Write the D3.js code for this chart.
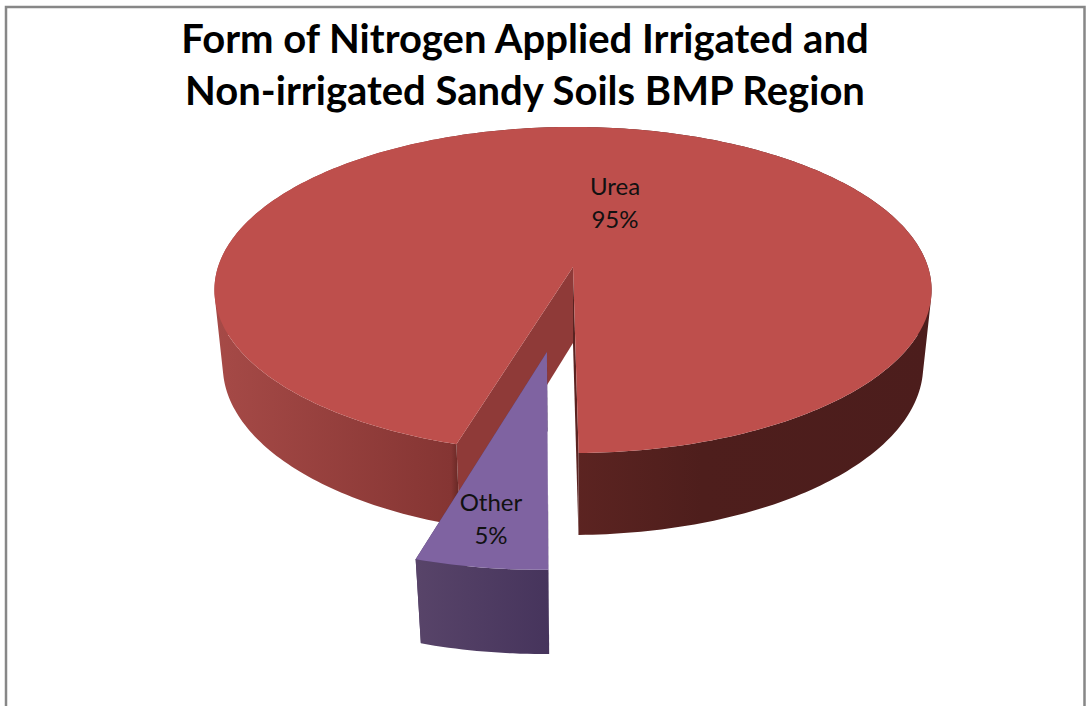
<!doctype html>
<html>
<head>
<meta charset="utf-8">
<script src="https://d3js.org/d3.v7.min.js"></script>
<style>
  html, body { margin: 0; padding: 0; background: #fff; }
  svg { display: block; font-family: Lato, "Open Sans", sans-serif; }
</style>
</head>
<body>
<script>
// data
const categories = ["Urea", "Other"];
const shares = [95.2, 4.8];
const titleLines = ["Form of Nitrogen Applied Irrigated and", "Non-irrigated Sandy Soils BMP Region"];

const width = 1086, height = 706;
const topColors = ["#be4f4c", "#7f63a1"];
const faceColors = ["#8f3a38", "#4c3a63"];
const wallStops = [
  [["0", "#a64a47"], ["0.33", "#853533"], ["0.34", "#692926"], ["0.68", "#4e1e1c"], ["1", "#4c1d1c"]],
  [["0", "#584469"], ["1", "#46345c"]]
];

// camera: a homography of the pie plane, one for the top and one for the bottom disc
const cx = 573, apexY = 267;
const topPlane = { R: 355, a: 159.8, b: 0.141, c: 0 };
const botPlane = { R: 347, a: 166, b: 0.135, c: 76 };
const explode = [0, 0.5];
const step = Math.PI / 180;

function project(plane, u, v) {
  const w = 1 - plane.b * v;
  return [cx + plane.R * u / w, apexY + plane.c + plane.a * v / w];
}

// angle 0 = back of the pie, running clockwise
function planePoint(plane, slice, i, r, angle) {
  const mid = (slice.startAngle + slice.endAngle) / 2;
  const u = r * Math.sin(angle) + explode[i] * Math.sin(mid);
  const v = -r * Math.cos(angle) - explode[i] * Math.cos(mid);
  return project(plane, u, v);
}

const rotation = 196.5 * step;
const slices = d3.pie().sort(null).startAngle(rotation).endAngle(rotation + 2 * Math.PI)(shares);

const line = d3.line();

const svg = d3.select("body").append("svg").attr("width", width).attr("height", height);
const defs = svg.append("defs");

svg.append("path")
  .attr("d", `M6,${height}V7H1084.5V${height}`)
  .attr("fill", "none").attr("stroke", "#878787").attr("stroke-width", 2.5);

svg.append("g").selectAll("text").data(titleLines).join("text")
  .attr("x", 525).attr("y", (d, i) => 53 + i * 52)
  .attr("text-anchor", "middle")
  .attr("font-size", 40).attr("font-weight", 700).attr("fill", "#000")
  .text(d => d);

function arcPoints(plane, slice, i) {
  const n = Math.ceil((slice.endAngle - slice.startAngle) / step);
  return d3.range(n + 1).map(k => planePoint(plane, slice, i, 1,
    slice.startAngle + (slice.endAngle - slice.startAngle) * k / n));
}

slices.forEach((slice, i) => {
  const g = svg.append("g").attr("class", "slice-" + categories[i]);
  const topArc = arcPoints(topPlane, slice, i);
  const botArc = arcPoints(botPlane, slice, i);
  const topApex = planePoint(topPlane, slice, i, 0, 0);
  const botApex = planePoint(botPlane, slice, i, 0, 0);
  const xs = topArc.concat(botArc).map(p => p[0]);

  const grad = defs.append("linearGradient").attr("id", "wall" + i)
    .attr("gradientUnits", "userSpaceOnUse")
    .attr("x1", d3.min(xs)).attr("x2", d3.max(xs)).attr("y1", 0).attr("y2", 0);
  grad.selectAll("stop").data(wallStops[i]).join("stop")
    .attr("offset", d => d[0]).attr("stop-color", d => d[1]);

  // cut faces first, the far-side one before the other
  const startFace = [topApex, topArc[0], botArc[0], botApex];
  const endFace = [topApex, topArc[topArc.length - 1], botArc[botArc.length - 1], botApex];
  g.append("path").attr("d", line(endFace) + "Z").attr("fill", i === 0 ? "#5a2321" : faceColors[i]);
  g.append("path").attr("d", line(startFace) + "Z").attr("fill", faceColors[i]);

  // outer wall: all quads in one path with one winding, so no seams and the sides stay filled
  const wallPath = d3.range(topArc.length - 1).map(k => {
    const quad = [topArc[k], topArc[k + 1], botArc[k + 1], botArc[k]];
    return line(d3.polygonArea(quad) < 0 ? quad.reverse() : quad) + "Z";
  }).join("");
  g.append("path").attr("d", wallPath).attr("fill", `url(#wall${i})`);

  g.append("path")
    .attr("d", line([topApex].concat(topArc)) + "Z")
    .attr("fill", topColors[i]);
});

const labelPos = [[615, 195], [491, 511]];
svg.append("g").selectAll("g").data(categories).join("g")
  .each(function (d, i) {
    const t = d3.select(this).append("text")
      .attr("text-anchor", "middle").attr("font-size", 24).attr("fill", "#111");
    t.append("tspan").attr("x", labelPos[i][0]).attr("y", labelPos[i][1]).text(d);
    t.append("tspan").attr("x", labelPos[i][0]).attr("y", labelPos[i][1] + 33).text(Math.round(shares[i]) + "%");
  });
</script>
</body>
</html>
